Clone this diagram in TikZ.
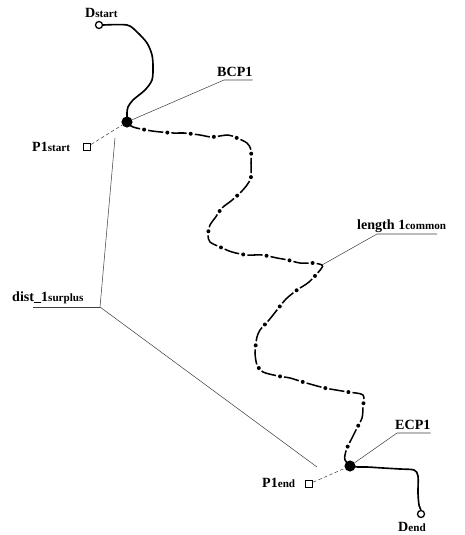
\documentclass[tikz,border=0pt]{standalone}
\usepackage{fontspec}
\setmainfont{Liberation Serif}
\usetikzlibrary{positioning}

\tikzset{
  route/.style={line width=1.4pt, line join=round},
  common/.style={line width=1.3pt, dash pattern=on 13pt off 7pt},
  commondot/.style={line width=3.4pt, line cap=round, dash pattern=on 0pt off 20pt, dash phase=3.5pt},
  leader/.style={line width=0.45pt, black!75},
  proj/.style={line width=0.45pt, black!75, dash pattern=on 3pt off 2pt},
  lbl/.style={font=\bfseries\fontsize{12}{12}\selectfont, inner sep=0pt, anchor=base west},
  endpt/.style={circle, draw, line width=1.1pt, fill=white, inner sep=0pt, minimum size=6pt},
  cpt/.style={circle, fill, inner sep=0pt, minimum size=9.5pt},
  ppt/.style={rectangle, draw, line width=1.1pt, inner sep=0pt, minimum size=6pt},
}
\newcommand{\sml}[1]{{\fontsize{9.5}{9.5}\selectfont #1}}

\begin{document}
\begin{tikzpicture}[x=0.03cm, y=-0.03cm]
  \useasboundingbox (0,0) rectangle (464,535);

  % points on the routes
  \node[endpt] (dstart) at (99,25) {};
  \node[endpt] (dend) at (421,514) {};
  \node[ppt] (pstart) at (87,147) {};
  \node[ppt] (pend) at (309,484) {};

  % labels
  \node[lbl] (dstartlbl) at (85,18) {D\sml{start}};
  \node[lbl] (bcplbl) at (217,77) {BCP1};
  \node[lbl] (pstartlbl) at (32,151) {P1\sml{start}};
  \node[lbl] (distlbl) at (12,301) {dist\_1\sml{surplus}};
  \node[lbl] (lenlbl) at (357,229) {length 1\sml{common}};
  \node[lbl] (ecplbl) at (395,429) {ECP1};
  \node[lbl] (pendlbl) at (262,487) {P1\sml{end}};
  \node[lbl] (dendlbl) at (398,531) {D\sml{end}};

  \coordinate (bcppt) at (127,122);
  \coordinate (ecppt) at (350,466);

  % route of D before and after the common part
  \draw[route] plot[smooth, tension=0.5] coordinates {(dstart.east) (127,25) (137,32) (147,43) (152,55) (153,67) (152,80) (145,90) (133,100) (128,107) (127,113) (bcppt)};
  \draw[route] plot[smooth, tension=0.5] coordinates {(ecppt) (358,467) (367,467) (383,468) (400,469) (414,470) (418,476) (418,493) (419,505) (dend.north)};

  % common part
  \foreach \s in {common, commondot}
    \draw[\s] plot[smooth, tension=0.5] coordinates {(bcppt) (133,127) (152,131) (173,133) (184,133) (200,135) (212,137) (228,135) (237,138) (247,143) (251,150) (251,163) (251,177) (247,185) (240,193) (231,201) (222,208) (215,218) (210,225) (208,235) (210,242) (220,247) (232,252) (247,255) (262,255) (277,258) (288,260) (300,263) (313,263) (322,265) (321,269) (309,282) (297,290) (286,299) (277,310) (269,320) (260,330) (257,337) (256,343) (255,353) (257,365) (263,372) (278,376) (290,378) (303,382) (325,388) (348,392) (363,395) (363,407) (362,418) (357,428) (352,438) (347,448) (345,455) (345,460) (ecppt)};

  \node[cpt] (bcp) at (bcppt) {};
  \node[cpt] (ecp) at (ecppt) {};

  % projections of P1 on D
  \draw[proj] (pstart) -- (bcp);
  \draw[proj] (pend) -- (ecp);

  % leaders
  \coordinate (bcpbend) at (224,80);
  \coordinate (lenbend) at (377,234);
  \coordinate (ecpbend) at (397,433);
  \coordinate (distbend) at (100,307);
  \coordinate (distup) at (115,138);
  \coordinate (distdown) at (317,467);
  \draw[leader] (bcp) -- (bcpbend) -- (bcpbend -| bcplbl.east);
  \draw[leader] (322,265) -- (lenbend) -- (437,234);
  \draw[leader] (ecp) -- (ecpbend) -- (ecpbend -| ecplbl.east);
  \draw[leader] (33,307) -- (distbend);
  \draw[leader] (distup) -- (distbend) -- (distdown);
\end{tikzpicture}
\end{document}
